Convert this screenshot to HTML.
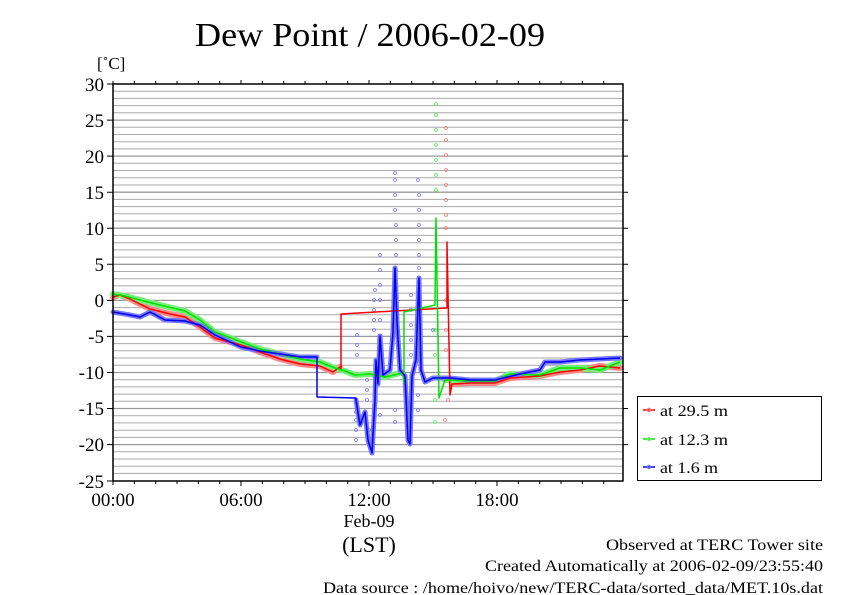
<!DOCTYPE html>
<html><head><meta charset="utf-8"><style>
body{margin:0;background:#fff}
svg{display:block}
text{font-family:"Liberation Serif",serif;fill:#000}
</style></head><body>
<svg width="842" height="595" viewBox="0 0 842 595" xmlns="http://www.w3.org/2000/svg">
<rect width="842" height="595" fill="#fff"/>
<text x="195" y="46" font-size="34" textLength="350" lengthAdjust="spacingAndGlyphs">Dew Point / 2006-02-09</text>
<text x="97" y="69" font-size="17">[˚C]</text>
<g stroke="#aaa" stroke-width="1">
<path d="M113 91.2H623M113 98.4H623M113 105.6H623M113 112.8H623M113 127.3H623M113 134.5H623M113 141.7H623M113 148.9H623M113 163.3H623M113 170.5H623M113 177.8H623M113 185H623M113 199.4H623M113 206.6H623M113 213.8H623M113 221H623M113 235.4H623M113 242.7H623M113 249.9H623M113 257.1H623M113 271.5H623M113 278.7H623M113 285.9H623M113 293.1H623M113 307.6H623M113 314.8H623M113 322H623M113 329.2H623M113 343.6H623M113 350.8H623M113 358H623M113 365.3H623M113 379.7H623M113 386.9H623M113 394.1H623M113 401.3H623M113 415.7H623M113 422.9H623M113 430.2H623M113 437.4H623M113 451.8H623M113 459H623M113 466.2H623M113 473.4H623"/>
</g>
<g stroke="#999" stroke-width="1.3">
<path d="M113 120.1H623M113 156.1H623M113 192.2H623M113 228.2H623M113 264.3H623M113 300.4H623M113 336.4H623M113 372.5H623M113 408.5H623M113 444.6H623"/>
</g>
<g fill="none" stroke-width="0.8">
<g stroke="#7777ff">
<circle cx="356" cy="402" r="1.5"/><circle cx="356" cy="412" r="1.5"/><circle cx="356" cy="420" r="1.5"/><circle cx="356" cy="430" r="1.5"/><circle cx="356" cy="440" r="1.5"/><circle cx="357" cy="335" r="1.5"/><circle cx="357" cy="345" r="1.5"/><circle cx="357" cy="355" r="1.5"/>
<circle cx="367" cy="380" r="1.5"/><circle cx="367" cy="390" r="1.5"/><circle cx="367" cy="400" r="1.5"/><circle cx="369" cy="430" r="1.5"/><circle cx="371" cy="445" r="1.5"/>
<circle cx="374" cy="300" r="1.5"/><circle cx="374" cy="310" r="1.5"/><circle cx="374" cy="320" r="1.5"/><circle cx="374" cy="330" r="1.5"/><circle cx="375" cy="290" r="1.5"/>
<circle cx="380" cy="255" r="1.5"/><circle cx="380" cy="270" r="1.5"/><circle cx="380" cy="285" r="1.5"/><circle cx="380" cy="300" r="1.5"/><circle cx="380" cy="320" r="1.5"/><circle cx="379" cy="340" r="1.5"/><circle cx="380" cy="415" r="1.5"/>
<circle cx="395" cy="173" r="1.5"/><circle cx="395" cy="180" r="1.5"/><circle cx="395" cy="195" r="1.5"/><circle cx="395" cy="210" r="1.5"/><circle cx="396" cy="225" r="1.5"/><circle cx="396" cy="240" r="1.5"/><circle cx="396" cy="255" r="1.5"/><circle cx="396" cy="270" r="1.5"/><circle cx="396" cy="285" r="1.5"/><circle cx="395" cy="300" r="1.5"/><circle cx="395" cy="410" r="1.5"/><circle cx="395" cy="422" r="1.5"/>
<circle cx="411" cy="295" r="1.5"/><circle cx="411" cy="310" r="1.5"/><circle cx="411" cy="325" r="1.5"/><circle cx="411" cy="340" r="1.5"/><circle cx="411" cy="355" r="1.5"/><circle cx="418" cy="180" r="1.5"/><circle cx="419" cy="195" r="1.5"/><circle cx="419" cy="210" r="1.5"/><circle cx="419" cy="225" r="1.5"/><circle cx="419" cy="240" r="1.5"/><circle cx="419" cy="255" r="1.5"/><circle cx="419" cy="268" r="1.5"/><circle cx="418" cy="395" r="1.5"/><circle cx="418" cy="410" r="1.5"/><circle cx="433" cy="330" r="1.5"/>
</g>
<g stroke="#55ee55">
<circle cx="436" cy="104" r="1.5"/><circle cx="436" cy="115" r="1.5"/><circle cx="436" cy="130" r="1.5"/><circle cx="436" cy="145" r="1.5"/><circle cx="436" cy="160" r="1.5"/><circle cx="436" cy="175" r="1.5"/><circle cx="436" cy="190" r="1.5"/><circle cx="435" cy="330" r="1.5"/><circle cx="435" cy="355" r="1.5"/><circle cx="435" cy="400" r="1.5"/><circle cx="435" cy="422" r="1.5"/>
</g>
<g stroke="#ff7777">
<circle cx="446" cy="128" r="1.5"/><circle cx="446" cy="140" r="1.5"/><circle cx="446" cy="155" r="1.5"/><circle cx="446" cy="170" r="1.5"/><circle cx="446" cy="185" r="1.5"/><circle cx="446" cy="200" r="1.5"/><circle cx="446" cy="215" r="1.5"/><circle cx="446" cy="228" r="1.5"/><circle cx="446" cy="300" r="1.5"/><circle cx="446" cy="330" r="1.5"/><circle cx="446" cy="350" r="1.5"/><circle cx="445" cy="420" r="1.5"/><circle cx="448" cy="400" r="1.5"/>
</g>
</g>
<g fill="none" stroke-linejoin="round" stroke-linecap="round">
<polyline stroke="#ff8888" stroke-width="6" points="113,297 120,295 130,299 150,309 170,314 185,317 200,327 215,338 241,345 260,352 280,359 300,364 320,366 333,372 340,367"/>
<polyline stroke="#ff8888" stroke-width="6" points="452,384 470,383 495,383 510,378 540,376 560,372 580,370 600,366 620,368"/>
<polyline stroke="#77ee77" stroke-width="6" points="113,294 125,296 140,300 160,305 185,311 200,320 215,332 241,342 260,349 280,354 300,359 320,362 335,368 345,371 355,375 370,374 385,377 400,373"/>
<polyline stroke="#77ee77" stroke-width="6" points="445,380 470,381 495,381 510,374 540,375 560,368 580,368 600,370 620,362"/>
<polyline stroke="#7777ff" stroke-width="5" points="113,312 130,315 140,317 150,312 165,320 185,321 200,325 215,335 241,347 260,351 280,354 300,357 317,357"/>
<polyline stroke="#7777ff" stroke-width="5" points="356,400 360,425 365,412 368,440 372,453 375,400 376,360 378,384 380,336 383,375 390,370 393,332 395,268 397,322 400,370 405,376 408,440 410,444 412,376 416,360 419,278 421,370 425,382 433,378 450,378 470,380 495,380 520,374 540,370 545,362 560,362 580,360 620,358"/>
</g>
<g fill="none" stroke-width="1.5" stroke-linejoin="round">
<polyline stroke="#ff0000" points="113,297 120,295 130,299 150,309 170,314 185,317 200,327 215,338 241,345 260,352 280,359 300,364 320,366 333,372 340,367 341,370 341,314 447,308 447,242 450,395 452,384 470,383 495,383 510,378 540,376 560,372 580,370 600,366 620,368"/>
<polyline stroke="#00e000" points="113,294 125,296 140,300 160,305 185,311 200,320 215,332 241,342 260,349 280,354 300,359 320,362 335,368 345,371 355,375 370,374 385,377 403,373 404,383 404,312 435,305 436,218 439,398 445,380 470,381 495,381 510,374 540,375 560,368 580,368 600,370 620,362"/>
<polyline stroke="#0000ee" points="113,312 130,315 140,317 150,312 165,320 185,321 200,325 215,335 241,347 260,351 280,354 300,357 317,357 317,397 356,398 356,400 360,425 365,412 368,440 372,453 375,400 376,360 378,384 380,336 383,375 390,370 393,332 395,268 397,322 400,370 405,376 408,440 410,444 412,376 416,360 419,278 421,370 425,382 433,378 450,378 470,380 495,380 520,374 540,370 545,362 560,362 580,360 620,358"/>
</g>
<rect x="113" y="84" width="510" height="397" fill="none" stroke="#000" stroke-width="1.5"/>
<g stroke="#000" stroke-width="1">
<path d="M113 84v-3M134.3 84v-3M155.7 84v-3M177 84v-3M198.3 84v-3M219.7 84v-3M241 84v-4M262.3 84v-3M283.7 84v-3M305 84v-3M326.3 84v-3M347.7 84v-3M369 84v-4M390.3 84v-3M411.7 84v-3M433 84v-3M454.3 84v-3M475.7 84v-3M497 84v-4M518.3 84v-3M539.7 84v-3M561 84v-3M582.3 84v-3M603.7 84v-3"/>
<path d="M113 481v4M134.3 481v3M155.7 481v3M177 481v3M198.3 481v3M219.7 481v3M241 481v5M262.3 481v3M283.7 481v3M305 481v3M326.3 481v3M347.7 481v3M369 481v5M390.3 481v3M411.7 481v3M433 481v3M454.3 481v3M475.7 481v3M497 481v5M518.3 481v3M539.7 481v3M561 481v3M582.3 481v3M603.7 481v3"/>
<path d="M113 84h-6M113 120.1h-6M113 156.1h-6M113 192.2h-6M113 228.2h-6M113 264.3h-6M113 300.4h-6M113 336.4h-6M113 372.5h-6M113 408.5h-6M113 444.6h-6M113 481h-6"/>
<path d="M623 120.1h5M623 156.1h5M623 192.2h5M623 228.2h5M623 264.3h5M623 300.4h5M623 336.4h5M623 372.5h5M623 408.5h5M623 444.6h5"/>
</g>
<g font-size="19" text-anchor="end">
<text x="104" y="91">30</text><text x="104" y="127">25</text><text x="104" y="163">20</text><text x="104" y="199">15</text><text x="104" y="235">10</text><text x="104" y="271">5</text><text x="104" y="307">0</text><text x="104" y="343">-5</text><text x="104" y="379">-10</text><text x="104" y="415">-15</text><text x="104" y="451">-20</text><text x="104" y="488">-25</text>
</g>
<g font-size="19" text-anchor="middle">
<text x="113" y="506">00:00</text><text x="241" y="506">06:00</text><text x="369" y="506">12:00</text><text x="497" y="506">18:00</text>
<text x="369" y="527" font-size="18">Feb-09</text>
<text x="369" y="552" font-size="22">(LST)</text>
</g>
<rect x="637.5" y="396.5" width="184" height="84" fill="#fff" stroke="#000" stroke-width="1"/>
<g stroke-width="1.5">
<line x1="643" y1="410" x2="655" y2="410" stroke="#ff0000"/><circle cx="649" cy="410" r="1.5" fill="none" stroke="#ff7777"/>
<line x1="643" y1="439" x2="655" y2="439" stroke="#00e000"/><circle cx="649" cy="439" r="1.5" fill="none" stroke="#77ee77"/>
<line x1="643" y1="467" x2="655" y2="467" stroke="#0000ee"/><circle cx="649" cy="467" r="1.5" fill="none" stroke="#7777ff"/>
</g>
<g font-size="16">
<text x="660" y="416" textLength="68" lengthAdjust="spacingAndGlyphs">at 29.5 m</text><text x="660" y="445" textLength="68" lengthAdjust="spacingAndGlyphs">at 12.3 m</text><text x="660" y="473" textLength="58" lengthAdjust="spacingAndGlyphs">at 1.6 m</text>
</g>
<g font-size="16">
<text x="606" y="550" textLength="217" lengthAdjust="spacingAndGlyphs">Observed at TERC Tower site</text>
<text x="485" y="571" textLength="338" lengthAdjust="spacingAndGlyphs">Created Automatically at 2006-02-09/23:55:40</text>
<text x="323" y="593" textLength="500" lengthAdjust="spacingAndGlyphs">Data source : /home/hoivo/new/TERC-data/sorted_data/MET.10s.dat</text>
</g>
</svg>
</body></html>
